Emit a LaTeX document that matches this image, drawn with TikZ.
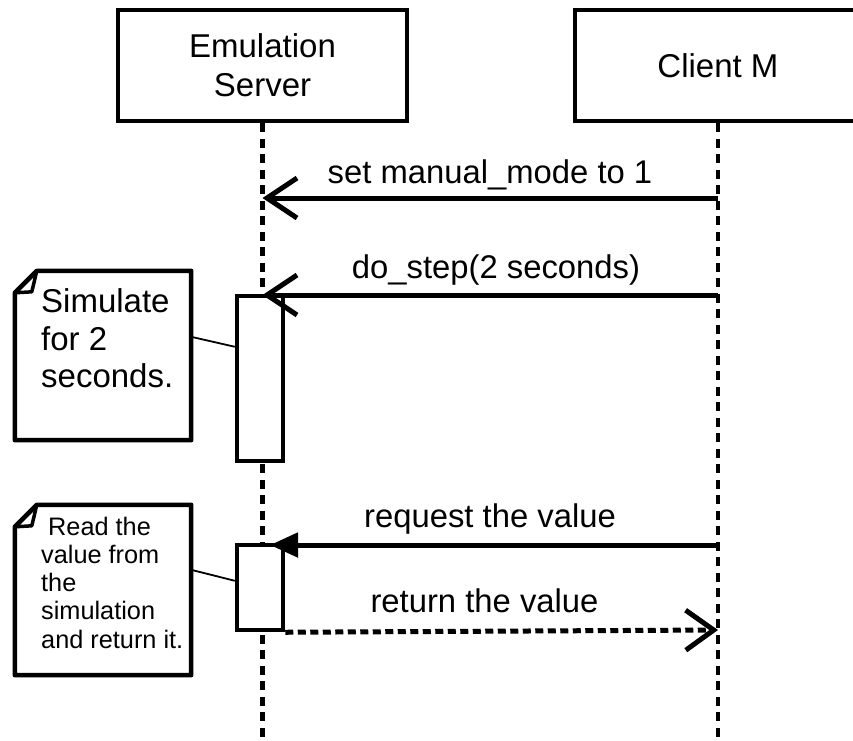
\documentclass[tikz,border=0pt]{standalone}
\usepackage{fontspec}
\setmainfont{Liberation Sans}
\usetikzlibrary{arrows.meta,calc}
\begin{document}
\begin{tikzpicture}[x=1pt,y=-1pt,
  header/.style={draw, line width=4.5pt, fill=white, inner sep=0pt,
    minimum height=111pt, align=center},
  bigtext/.style={font=\fontsize{33}{39}\selectfont},
  msgtext/.style={font=\fontsize{32.8}{37}\selectfont, inner sep=0pt, anchor=base},
  lifeline/.style={line width=4.5pt, dash pattern=on 9pt off 6.5pt},
  actbar/.style={draw, line width=4.5pt, fill=white, minimum width=46pt, inner sep=0pt},
  notebox/.style={line width=4.5pt, line join=round},
  notefold/.style={line width=3.5pt, line join=round},
  notelink/.style={line width=1.8pt},
  msg/.style={line width=5pt, -{Straight Barb[length=30pt, width=40pt, line width=5pt]}},
  syncmsg/.style={line width=5pt, -{Triangle[length=28pt, width=24pt]}},
  retmsg/.style={line width=5pt, dash pattern=on 8pt off 4.5pt,
    -{Straight Barb[length=28pt, width=40pt, line width=5pt, sep=0pt]}},
]
\useasboundingbox (0,0) rectangle (853,740);
\clip (0,0) rectangle (853,740);

% participants
\node[header, bigtext, minimum width=289pt] (srv) at (262.5,65.5) {Emulation\\Server};
\node[header, bigtext, minimum width=286pt] (cli) at (718,65.5) {Client M};

% lifelines
\coordinate (srvEnd) at (262.5,745);
\coordinate (cliEnd) at (718,745);
\draw[lifeline] (srv.south) -- (srvEnd);
\draw[lifeline] (cli.south) -- (cliEnd);

% activation bars
\node[actbar, minimum height=165pt] (act1) at (260,378.5) {};
\node[actbar, minimum height=85pt] (act2) at (260,587.5) {};

% message end points
\coordinate (c1) at (718,198);  \coordinate (s1) at (262.5,198);
\coordinate (c2) at (718,295);  \coordinate (s2) at (262.5,295);
\coordinate (c3) at (718,545);  \coordinate (s3) at (270,545);
\coordinate (c4) at (718,630);

% messages
\draw[msg] (c1) -- (s1);
\node[msgtext] (m1) at (490,183) {set manual\_mode to 1};
\draw[msg] (c2) -- (s2);
\node[msgtext] (m2) at (496,278) {do\_step(2 seconds)};
\draw[syncmsg] (c3) -- (s3);
\node[msgtext] (m3) at (490,527) {request the value};
\draw[retmsg] (act2.south east) -- (c4);
\node[msgtext] (m4) at (484.5,612) {return the value};

% notes
\node[minimum width=176pt, minimum height=169pt, inner sep=0pt] (n1) at (103,355.5) {};
\draw[notebox, fill=white] ($(n1.north west)+(0,22)$) -- ($(n1.north west)+(22,0)$)
  -- (n1.north east) -- (n1.south east) -- (n1.south west) -- cycle;
\draw[notefold] ($(n1.north west)+(0,22)$) -- ($(n1.north west)+(22,0)$)
  -- ($(n1.north west)+(17,21)$) -- cycle;
\node[font=\fontsize{33}{37.5}\selectfont, align=left, inner sep=0pt, anchor=north west]
  (t1) at (41,288.5) {Simulate\\for 2\\seconds.};
\draw[notelink] ($(n1.north east)+(0,66)$) -- ($(act1.north west)+(0,53)$);

\node[minimum width=176pt, minimum height=170pt, inner sep=0pt] (n2) at (103,590) {};
\draw[notebox, fill=white] ($(n2.north west)+(0,22)$) -- ($(n2.north west)+(22,0)$)
  -- (n2.north east) -- (n2.south east) -- (n2.south west) -- cycle;
\draw[notefold] ($(n2.north west)+(0,22)$) -- ($(n2.north west)+(22,0)$)
  -- ($(n2.north west)+(17,21)$) -- cycle;
\node[font=\fontsize{25.3}{28.3}\selectfont, align=left, inner sep=0pt, anchor=north west]
  (t2) at (41,516.5) {\ Read the\\value from\\the\\simulation\\and return it.};
\draw[notelink] ($(n2.north east)+(0,65)$) -- ($(act2.north west)+(0,38)$);
\end{tikzpicture}
\end{document}
